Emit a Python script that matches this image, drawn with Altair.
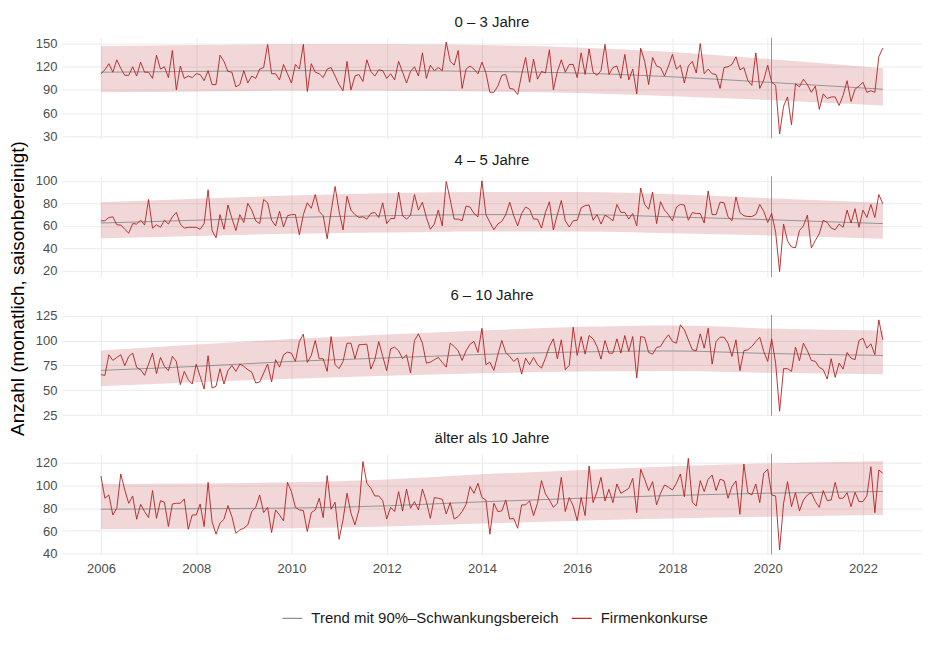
import altair as alt
import pandas as pd

FONT = "Liberation Sans"

panel_titles = ["0 – 3 Jahre", "4 – 5 Jahre", "6 – 10 Jahre", "älter als 10 Jahre"]
SER_T = "Trend mit 90%–Schwankungsbereich"
SER_D = "Firmenkonkurse"
Y_TITLE = "Anzahl (monatlich, saisonbereinigt)"

# monthly values, Jan 2006 .. Jun 2022
v1 = [111,116,124,113,129,118,109,109,120,108,
      126,113,113,105,135,117,120,106,141,90,
      121,105,108,106,111,110,102,115,97,97,
      135,127,114,113,94,97,115,99,108,105,
      117,119,149,111,111,103,123,111,99,123,
      117,149,88,124,113,111,106,117,119,108,
      97,89,127,90,108,110,101,129,114,108,
      116,115,105,111,103,127,113,99,114,120,
      108,138,105,122,115,119,115,152,127,122,
      141,92,117,121,117,111,126,112,87,87,
      95,109,110,92,91,84,110,132,100,130,
      104,114,112,142,90,114,129,113,123,123,
      106,138,110,143,113,109,115,149,110,119,
      121,105,136,103,117,85,144,127,97,132,
      121,119,108,121,136,117,122,99,121,127,
      112,150,111,117,111,110,92,119,120,123,
      133,116,119,102,96,138,92,103,122,100,
      96,33,69,81,45,98,94,104,97,87,
      95,65,85,79,81,81,70,83,102,75,
      91,95,100,87,89,87,133,144]
v2 = [64.5,64.5,67.4,68,61,60.7,57,53.5,62,61.6,
      65,60.7,83.4,58,61,58.7,65,61.6,68,72,
      61.6,58,58.7,58.7,58.7,57,62,92,55.8,49.4,
      70,57,78.5,66.8,55.8,70,63,80,74,64.5,
      62,83.4,80.5,65,60,73,59,69,70,70,
      52,70,80.5,75.6,87.8,72.7,69,48.5,73,95,
      73,56.4,86.3,74,70,67.4,68,66,71,72,
      67.4,80.5,62,66.5,66.5,90,69,66,69.5,87.8,
      74,81,67.4,57,61.6,74,60,99.4,83.4,66,
      66,64.5,77.6,76.7,71,68,100,70,63,56.6,
      61.6,64,70,81,69,60,71,76.7,74.7,66,
      66,58,72,81.4,56.4,70,82.5,64.5,59,64.5,
      65,76,78,78.5,65,70,61.6,69.5,67.4,64.5,
      79,72,72,66,71,60,93.6,79,74.7,90,
      62,81.4,74,70,64.5,76.7,79,78.5,65,71.8,
      71,71,62.5,91,70,70,81,80.5,68,64.5,
      85.7,71.8,69,68.3,68.3,70,79,73,63,71,
      54.3,19.4,61.6,46.5,41.2,40.6,55.8,60,69.5,40.4,
      47,53,65,63,58,56.6,61.6,58.7,74,62.5,
      75.3,58.7,74,67.4,79,67.4,87.8,79.6]
v3 = [65.7,65,85.7,80,83,85.7,74.7,84,87.3,73,
      70.7,65,76.3,87.3,66.7,83,74,69.7,84,79,
      55.7,69,60.7,56.3,76.3,64,51.3,84.7,52.3,54,
      71.7,56.3,69.7,75,69,76.3,74,70.7,68.3,57.3,
      58.3,67.3,76.3,58.3,80.7,73.3,85.7,88.3,87.3,79,
      99,106.3,78,85,100,81.7,81.7,69,104,75.7,
      71.7,79,97.3,97.3,81.7,95.7,96,96.3,71.3,80.7,
      99,84,69.7,91.7,93.3,89.7,81.7,85.7,67.3,100,
      106.7,97.3,77.3,78.3,80.7,83,78,73.3,97.3,94,
      89.7,80,89.7,96.3,99,88,112.3,75.7,78.3,70,
      85.7,100,88,84,79,82.3,66.3,82.3,75.7,83,
      75.7,72.3,82.3,94,101.7,81.7,100.7,70.7,75,113.3,
      85,104,86.3,105,101.7,94,81.3,100,87.3,87.3,
      101.7,87.3,105,89,104,62.3,104,103,88,86.3,
      93,94,100.7,105.7,99,97.3,115.7,110.7,100.7,90.7,
      89.7,106.7,92.3,112.3,76.3,99,103.3,103.3,97.3,84,
      100.7,69.7,89.7,90.7,94,99,103.3,89,79,101.7,
      77.3,29,71.7,71.7,69,93.3,79.7,97.3,89.7,80,
      79,73,70.7,61.3,81.7,63,77.3,71.3,88,82.3,
      80.7,100,102.3,92.3,96.7,85.7,120.7,100.7]
v4 = [108,88.6,91.5,74,79.9,109.8,95.9,84.2,90.6,70.3,
      83.3,77,71.7,95.3,71.1,86.5,85.1,63.9,83.6,84.2,
      84.2,88,61.5,74,74,83.6,63.9,102.5,68.2,57.2,
      66.8,70.3,82.2,72.6,58,61,62.4,65.3,77,80.7,
      91.5,76.1,80.7,58.6,78.4,74,68.8,102.5,94.4,80.7,
      78.4,77.8,59.5,76.1,78.4,88.6,71.7,108.4,79,85.1,
      52.8,69.7,93,75.5,65.3,78.4,120.6,101.7,97.3,90.6,
      90.6,86.5,70.5,80.7,77,94.4,77.5,96.7,79.9,85.7,
      78.4,96.7,85.7,71.1,89.2,88.6,87.7,74.9,84.8,70.5,
      72.6,77,83.3,98.8,92.9,101.7,89.2,87.1,57.2,84.2,
      77,77.5,87.1,70.5,71.1,62.4,82.8,82.8,86.3,73.5,
      84.2,104,92.4,87.1,80.7,84.2,106.9,77,89.2,81.9,
      69.1,89.2,73.5,116.8,84.8,94.4,106.9,86.3,96.4,84.8,
      101.1,92.9,95,97.3,106,76,113.9,105.2,95.3,103.1,
      82.8,93,100.2,98.2,95.9,101.7,109.8,90,123.5,85.1,
      81.9,104,94.4,105.2,108.9,95.3,105.2,104,88.6,98.8,
      103.7,74.6,118.5,93.5,91.5,101.1,84.8,110.4,113.9,91.5,
      90.6,43.5,84.2,103.1,81.3,93.5,77.5,87.1,91.5,93.5,
      85.7,80.7,95.3,86.5,87.1,102.5,88.6,88.6,93.5,81.3,
      93.8,85.7,85.7,90.9,116.2,76,113.3,110.4]

# trend knots (decimal year) with 90% band
trend_years = [2006, 2008, 2010, 2012, 2014, 2016, 2018, 2020, 2022.42]
t1 = [113, 114, 115, 115, 114, 112, 107, 100, 91]
lo1 = [87, 88, 89, 89, 88, 86, 82, 77, 70]
up1 = [147, 148, 149, 149, 148, 145, 139, 130, 118]
t2 = [62.5, 65, 67.5, 69, 70, 70, 68, 65.5, 62]
lo2 = [49, 51, 53, 54, 55, 55, 53.5, 51.5, 48.5]
up2 = [81, 84, 87, 89, 90, 90, 88, 84.5, 80.5]
t3 = [70, 74, 79, 82.5, 86, 88.5, 89.5, 87, 85]
lo3 = [54, 58, 61.5, 64.5, 67, 69, 69.5, 67.5, 66]
up3 = [90, 96, 101.5, 106, 110, 113.5, 115, 112, 110]
t4 = [79, 79.5, 80, 82, 85.5, 88.5, 91, 93, 94.5]
lo4 = [61.5, 62, 62.5, 64, 66.5, 69, 71, 72.5, 74]
up4 = [101, 101.5, 102.5, 105, 109.5, 113, 116.5, 119, 121]

marker_year = 2020.08  # Corona marker
x_ticks = [2006, 2008, 2010, 2012, 2014, 2016, 2018, 2020, 2022]
y_ticks = [[30, 60, 90, 120, 150], [20, 40, 60, 80, 100], [25, 50, 75, 100, 125], [40, 60, 80, 100, 120]]
y_domains = [[27.4, 157.7], [14.5, 104], [24.4, 125.6], [39.5, 127.5]]

color_scale = alt.Scale(domain=[SER_T, SER_D], range=["#8c8c8c", "#b22222"])
x_scale = alt.Scale(domain=[2005.18, 2023.24], nice=False, zero=False)


def x_enc(field, show_labels):
    ax = alt.Axis(values=x_ticks, format="d", title=None, labels=show_labels,
                  ticks=False, domain=False, grid=True, labelPadding=8)
    return alt.X(f"{field}:Q", scale=x_scale, axis=ax)


def panel(k, values, trend, lo, up):
    n = len(values)
    d = pd.DataFrame({"year": [2006 + i / 12 for i in range(n)], "value": values, "series": SER_D})
    t = pd.DataFrame({"year": trend_years, "trend": trend, "lower": lo, "upper": up, "series": SER_T})
    show = (k == 3)
    yax_kwargs = dict(values=y_ticks[k], title=None, ticks=False, domain=False, grid=True, labelPadding=5)
    if k == 0:
        # shared axis title, hung below the first panel so it centres on the whole stack
        yax_kwargs.update(title=Y_TITLE, titleX=-44, titleY=251,
                          titleFontSize=19, titleFontWeight="normal", titleColor="#000000",
                          titleFont=FONT, titleAngle=270, titleAlign="center", titleBaseline="middle")
    yax = alt.Axis(**yax_kwargs)
    ysc = alt.Scale(domain=y_domains[k], nice=False, zero=False)
    band = alt.Chart(t).mark_area(color="#b22222", opacity=0.18, interpolate="monotone").encode(
        x=x_enc("year", show),
        y=alt.Y("lower:Q", scale=ysc, axis=yax),
        y2="upper:Q",
    )
    rule = alt.Chart(pd.DataFrame({"year": [marker_year]})).mark_rule(color="#8c8c8c", strokeWidth=0.9).encode(
        x=x_enc("year", show)
    )
    tline = alt.Chart(t).mark_line(strokeWidth=0.9, interpolate="monotone").encode(
        x=x_enc("year", show),
        y=alt.Y("trend:Q", scale=ysc, axis=yax),
        color=alt.Color("series:N", scale=color_scale, title=None),
    )
    dline = alt.Chart(d).mark_line(strokeWidth=0.9).encode(
        x=x_enc("year", show),
        y=alt.Y("value:Q", scale=ysc, axis=yax),
        color=alt.Color("series:N", scale=color_scale, title=None),
    )
    return alt.layer(band, rule, tline, dline).properties(
        width=862, height=101,
        title=alt.Title(panel_titles[k], fontSize=15, font=FONT, fontWeight="normal",
                        color="#1a1a1a", anchor="middle", offset=7, frame="group"),
    )


charts = [panel(0, v1, t1, lo1, up1), panel(1, v2, t2, lo2, up2),
          panel(2, v3, t3, lo3, up3), panel(3, v4, t4, lo4, up4)]

chart = alt.vconcat(*charts, spacing=38, bounds="flush").resolve_scale(
    y="independent", color="shared"
).configure(
    font=FONT, padding={"left": 0, "top": 6, "right": 0, "bottom": 5}
).configure_view(stroke=None).configure_axis(
    gridColor="#ebebeb", gridWidth=1, labelFont=FONT, labelFontSize=13, labelColor="#4d4d4d"
).configure_legend(
    orient="none", legendX=220, legendY=571, direction="horizontal",
    symbolType="stroke", symbolSize=400, symbolStrokeWidth=1.2, labelLimit=0,
    labelFont=FONT, labelFontSize=15, labelColor="#1a1a1a", columnPadding=10, labelOffset=8,
)

chart.save("out.html", embed_options={"renderer": "svg", "actions": False})
